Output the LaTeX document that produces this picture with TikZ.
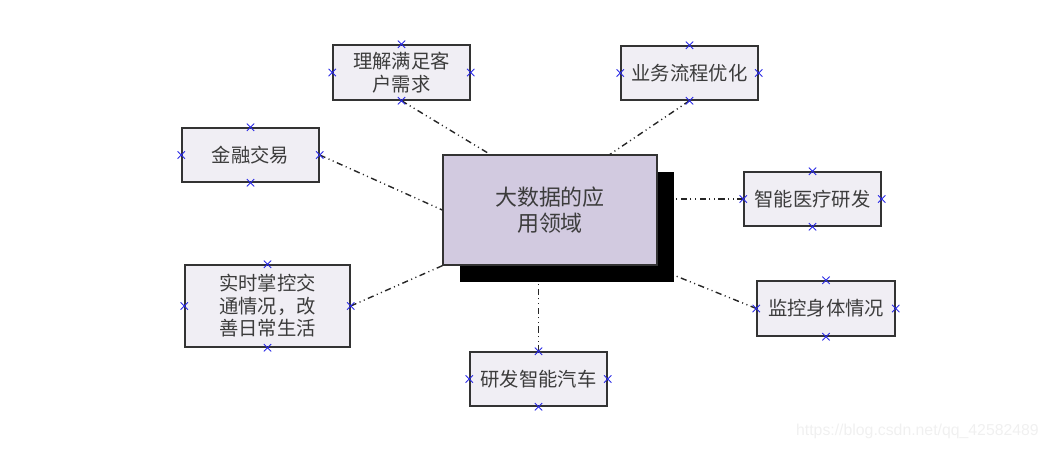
\documentclass[tikz,border=0pt]{standalone}
\usepackage{fontspec}
\newfontfamily\cjk{Noto Sans CJK SC}
\setmainfont{Liberation Sans}
\usepackage{xcolor}
\usepackage{tikz}
\usetikzlibrary{arrows,positioning,calc,shapes.misc}
\definecolor{lila}{RGB}{210,202,224}
\definecolor{gris}{RGB}{240,238,244}
\definecolor{azul}{RGB}{40,40,230}
\definecolor{texto}{RGB}{60,60,60}

\begin{document}
\begin{tikzpicture}[x=0.02cm, y=-0.02cm,
    caja/.style={draw=black!80, line width=0.8pt, fill=gris, text=texto, align=center,
      font=\cjk\fontsize{11}{12.8}\selectfont, inner sep=0pt},
    marca/.style={cross out, draw=azul, line width=0.5pt, minimum size=0.13cm, inner sep=0pt},
    enlace/.style={line width=0.8pt, black!85,
      dash pattern=on 3.5pt off 2pt on 0.6pt off 2pt on 0.6pt off 2pt}]
        \useasboundingbox (0,0) rectangle (1055,451);
        % centro
        \node[fill=black, minimum width=214*0.02cm, minimum height=110*0.02cm] (sombra) at (567,227) {};
        \node[draw=black!80, line width=0.8pt, fill=lila, text=texto, align=center,
          font=\cjk\fontsize{12.5}{14.5}\selectfont, minimum width=214*0.02cm,
          minimum height=110*0.02cm] (main) at (550,210) {大数据的应\\用领域};
        % cajas
        \foreach \n/\x/\y/\w/\h/\t in {need/401.5/72.5/137/55/{理解满足客\\户需求},
            yewu/689.5/73/137/54/{业务流程优化}, jinrong/250.5/155/137/54/{金融交易},
            yiliao/812.5/199/137/54/{智能医疗研发}, jiaotong/267.5/306/165/82/{实时掌控交\\通情况，改\\善日常生活},
            jiance/826/308.5/138/55/{监控身体情况}, qiche/538.5/379/137/54/{研发智能汽车}} {
          \node[caja, minimum width=\w*0.02cm, minimum height=\h*0.02cm] (\n) at (\x,\y) {\t};
        }
        \draw[enlace] (need.south) -- ([xshift=-1.2cm]main.north);
        \draw[enlace] (yewu.south) -- ([xshift=1.2cm]main.north);
        \draw[enlace] (jinrong.east) -- (main.west);
        \draw[enlace] (yiliao.west) -- (yiliao.west -| sombra.east);
        \draw[enlace] (jiaotong.east) -- (main.south west);
        \draw[enlace] (jiance.west) -- ([yshift=0.14cm]sombra.south east);
        \draw[enlace] (qiche.north) -- (qiche.north |- sombra.south);
        \foreach \n in {need, yewu, jinrong, yiliao, jiaotong, jiance, qiche} {
          \foreach \a in {north, south, east, west}
            \node[marca] at (\n.\a) {};
        }
        \node[text=black!6, font=\fontsize{9}{10}\selectfont, anchor=east] (marcaagua) at (1045,431) {https://blog.csdn.net/qq\_42582489};
      \end{tikzpicture}
\end{document}
